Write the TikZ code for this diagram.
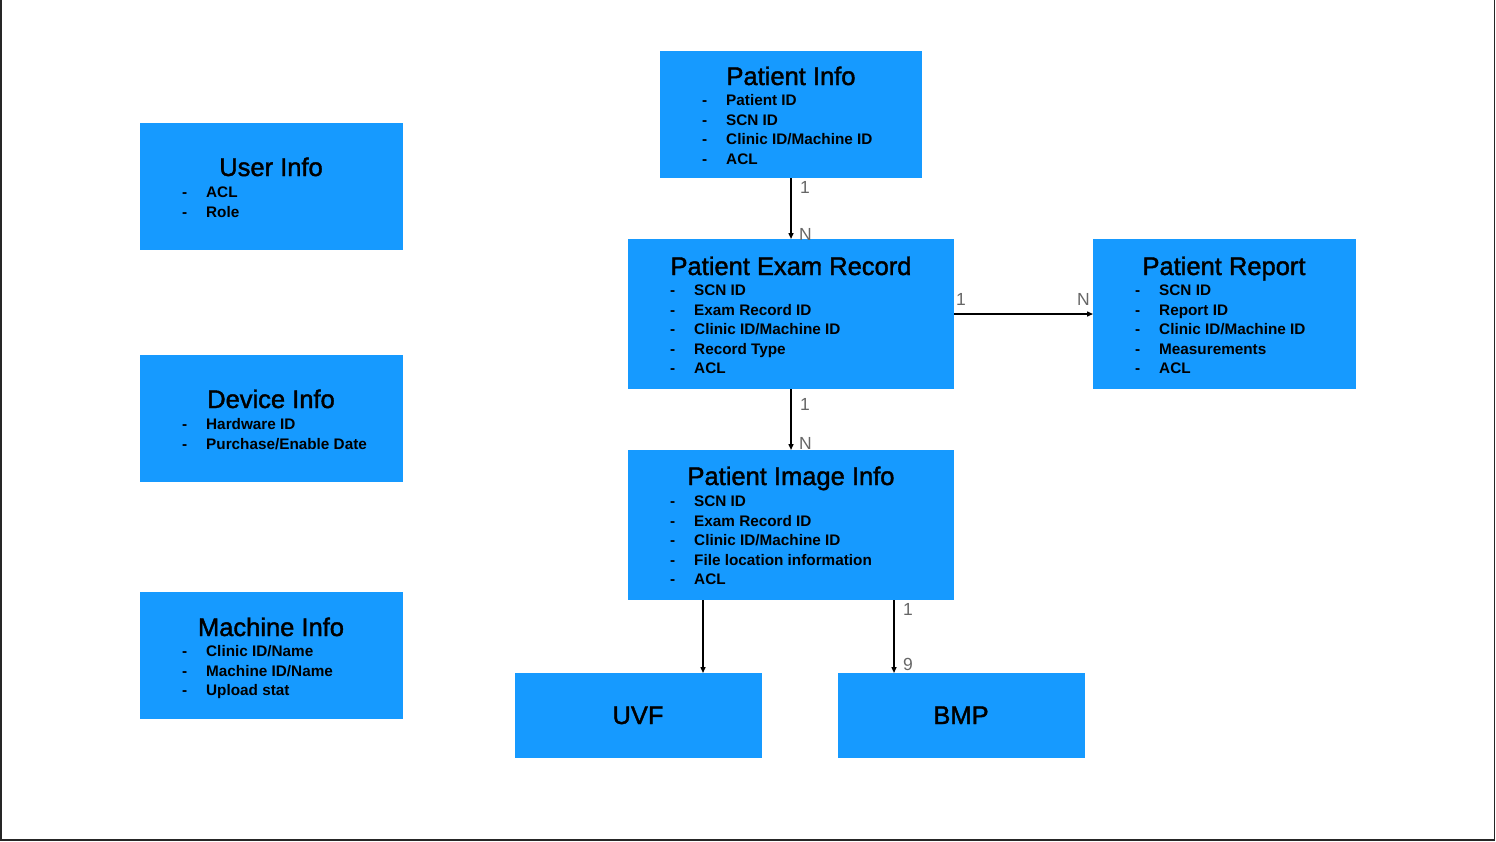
\documentclass[tikz,border=0pt]{standalone}
\usepackage{fontspec}
\setmainfont{Liberation Sans}
\newfontfamily\titlefont{Liberation Sans}[FakeBold=1.6]
\usetikzlibrary{arrows.meta}
\definecolor{boxblue}{RGB}{22,154,255}
\definecolor{lblgray}{RGB}{102,102,102}
\tikzset{
  entbox/.style={fill=boxblue, draw=none, inner sep=0pt, anchor=north west},
  ttl/.style={inner sep=0pt, anchor=base, font=\titlefont\fontsize{25.5}{28}\selectfont},
  itm/.style={inner sep=0pt, anchor=base west, font=\fontsize{15.3}{18}\selectfont\bfseries},
  lbl/.style={inner sep=0pt, anchor=base west, text=lblgray, font=\fontsize{17.5}{19}\selectfont},
  arr/.style={line width=1.4pt, -{Triangle[length=6pt,width=5pt]}},
}
\newcommand{\boxitems}[4]{%
  \foreach \t [count=\i] in {#4} {
    \node[itm] (#1-d\i) at (#2, #3+\i*19.6-19.6) {-};
    \node[itm] (#1-t\i) at (#2+24, #3+\i*19.6-19.6) {\t};
  }%
}
\begin{document}
\begin{tikzpicture}[x=1pt,y=-1pt]
\useasboundingbox (0,0) rectangle (1496,841);
\draw[line width=1.5pt, draw=black!85] (0.75,0) -- (0.75,840) -- (1494.6,840) -- (1494.6,0);

% boxes
\node[entbox, minimum width=262, minimum height=127] (pinfo) at (660,51) {};
\node[entbox, minimum width=263, minimum height=127] (uinfo) at (140,123) {};
\node[entbox, minimum width=263, minimum height=127] (dinfo) at (140,355) {};
\node[entbox, minimum width=263, minimum height=127] (minfo) at (140,592) {};
\node[entbox, minimum width=326, minimum height=150] (exam) at (628,239) {};
\node[entbox, minimum width=263, minimum height=150] (report) at (1093,239) {};
\node[entbox, minimum width=326, minimum height=150] (image) at (628,450) {};
\node[entbox, minimum width=247, minimum height=85] (uvf) at (515,673) {};
\node[entbox, minimum width=247, minimum height=85] (bmp) at (838,673) {};

% titles
\node[ttl] (pinfo-title) at (791,85) {Patient Info};
\node[ttl] (uinfo-title) at (271,176) {User Info};
\node[ttl] (dinfo-title) at (271,408) {Device Info};
\node[ttl] (minfo-title) at (271,636) {Machine Info};
\node[ttl] (exam-title) at (791,275) {Patient Exam Record};
\node[ttl] (report-title) at (1224,275) {Patient Report};
\node[ttl] (image-title) at (791,485) {Patient Image Info};
\node[ttl] (uvf-title) at (638,724) {UVF};
\node[ttl] (bmp-title) at (961,724) {BMP};

% items
\boxitems{pinfo}{702}{105.5}{Patient ID,SCN ID,Clinic ID/Machine ID,ACL}
\boxitems{uinfo}{182}{197.5}{ACL,Role}
\boxitems{dinfo}{182}{429.5}{Hardware ID,Purchase/Enable Date}
\boxitems{minfo}{182}{656.5}{Clinic ID/Name,Machine ID/Name,Upload stat}
\boxitems{exam}{670}{295.5}{SCN ID,Exam Record ID,Clinic ID/Machine ID,Record Type,ACL}
\boxitems{report}{1135}{295.5}{SCN ID,Report ID,Clinic ID/Machine ID,Measurements,ACL}
\boxitems{image}{670}{506.5}{SCN ID,Exam Record ID,Clinic ID/Machine ID,File location information,ACL}

% connectors
\draw[arr] (pinfo.south -| 791,0) -- (exam.north -| 791,0);
\draw[arr] (exam.east |- 0,314) -- (report.west |- 0,314);
\draw[arr] (exam.south -| 791,0) -- (image.north -| 791,0);
\draw[arr] (image.south -| 703,0) -- (uvf.north -| 703,0);
\draw[arr] (image.south -| 894,0) -- (bmp.north -| 894,0);

% cardinality labels
\node[lbl] (l1a) at (800,193) {1};
\node[lbl] (l1b) at (799,240) {N};
\node[lbl] (l2a) at (956,305) {1};
\node[lbl] (l2b) at (1077,305) {N};
\node[lbl] (l3a) at (800,410) {1};
\node[lbl] (l3b) at (799,449) {N};
\node[lbl] (l4a) at (903,615) {1};
\node[lbl] (l4b) at (903,670) {9};
\end{tikzpicture}
\end{document}
